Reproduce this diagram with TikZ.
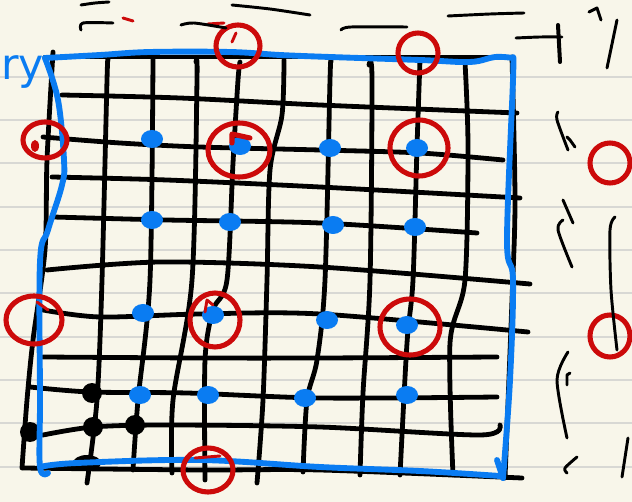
\documentclass[tikz,border=0pt]{standalone}
\usepackage{fontspec}
\newfontfamily\handfont{DejaVu Sans}
\definecolor{paper}{HTML}{F8F6EA}
\definecolor{ruleline}{HTML}{D8D8D4}
\definecolor{inkblue}{HTML}{0A7CF2}
\definecolor{inkred}{HTML}{CC0A0A}
\begin{document}
\begin{tikzpicture}[x=0.75pt,y=-0.75pt,line cap=round,line join=round,
  gridline/.style={draw=black,line width=3.6pt},
  scribble/.style={draw=black,line width=2.2pt},
  border/.style={draw=inkblue,line width=4.4pt},
  bdot/.style={fill=inkblue},
  kdot/.style={fill=black},
  ring/.style={draw=inkred,line width=3.8pt},
  redmark/.style={draw=inkred,line width=2.2pt}]
\fill[paper] (0,0) rectangle (632,502);
\useasboundingbox (0,0) rectangle (632,502);
\clip (0,0) rectangle (632,502);
% ruled paper
\foreach \yy in {77,120,163,207,250,293,337,380,423,467}
  \draw[ruleline,line width=1.4pt] (0,\yy) -- (632,\yy);
% horizontal grid lines
\draw[gridline] plot[smooth] coordinates {(45,57)(300,57)(512,57)};
\draw[gridline] plot[smooth] coordinates {(62,95)(180,98)(320,105)(517,113)};
\draw[gridline] plot[smooth] coordinates {(43,137)(120,143)(200,147)(320,150)(420,153)(503,160)};
\draw[gridline] plot[smooth] coordinates {(52,177)(167,180)(320,187)(520,198)};
\draw[gridline] plot[smooth] coordinates {(53,217)(167,220)(320,223)(477,233)};
\draw[gridline] plot[smooth] coordinates {(47,270)(160,262)(320,267)(530,284)};
\draw[gridline] plot[smooth] coordinates {(43,310)(100,317)(200,314)(320,314)(528,332)};
\draw[gridline] plot[smooth] coordinates {(43,357)(200,358)(320,358)(497,357)};
\draw[gridline] plot[smooth] coordinates {(30,387)(90,392)(187,393)(320,398)(497,397)};
\draw[gridline] plot[smooth] coordinates {(43,435)(93,427)(167,425)(320,427)(480,435)(500,425)};
\draw[gridline] plot[smooth] coordinates {(23,468)(200,470)(320,470)(522,478)};
% vertical grid lines
\draw[gridline] plot[smooth] coordinates {(53,52)(47,160)(45,250)(33,340)(27,400)(22,468)};
\draw[gridline] plot[smooth] coordinates {(108,60)(107,80)(102,280)(97,400)(87,483)};
\draw[gridline] plot[smooth] coordinates {(153,58)(150,280)(138,400)(133,470)};
\draw[gridline] plot[smooth] coordinates {(196,62)(197,80)(192,280)(173,400)(172,473)};
\draw[gridline] plot[smooth] coordinates {(240,62)(238,80)(233,163)(227,280)(213,310)(205,360)(205,480)};
\draw[gridline] plot[smooth] coordinates {(284,60)(282,115)(270,170)(267,280)(263,400)(257,483)};
\draw[gridline] plot[smooth] coordinates {(331,62)(330,80)(325,280)(317,360)(307,400)(303,472)};
\draw[gridline] plot[smooth] coordinates {(369,65)(372,80)(370,280)(363,393)(360,475)};
\draw[gridline] plot[smooth] coordinates {(420,60)(417,147)(413,280)(407,343)(400,475)};
\draw[gridline] plot[smooth] coordinates {(465,62)(468,147)(465,280)(450,343)(453,475)};
\draw[gridline] plot[smooth] coordinates {(512,57)(515,200)(512,300)(505,478)};
% black dots
\fill[kdot] (92,393) circle [radius=10];
\fill[kdot] (93,427) circle [radius=10];
\fill[kdot] (135,425) circle [radius=10];
\fill[kdot] (30,432) circle [radius=10];
\fill[kdot] (87,463) ellipse [x radius=14, y radius=8];
% blue border
\draw[border] plot[smooth,tension=0.6] coordinates {(45,58)(100,55)(150,52)(230,52)(280,55)(330,57)(420,60)(470,62)(495,57)(513,58)};
\draw[border] plot[smooth,tension=0.6] coordinates {(513,58)(513,80)(507,240)(513,280)(510,380)(503,478)};
\draw[border] (497,460) -- (503,478);
\draw[border] plot[smooth,tension=0.6] coordinates {(40,467)(77,463)(200,460)(320,467)(420,471)(500,476)};
\draw[border] plot[smooth,tension=0.6] coordinates {(45,58)(58,100)(64,160)(62,185)(48,230)(40,262)(40,400)(40,467)(48,473)};
% blue dots
\foreach \p in {(152,139),(240,146),(330,148),(417,148),
                (152,220),(230,222),(333,225),(415,227),
                (143,313),(213,315),(327,320),(407,325),
                (140,395),(208,395),(305,398),(407,395)}
  \fill[bdot] \p ellipse [x radius=11, y radius=9];
% red circles
\draw[ring] (238,46) ellipse [x radius=22, y radius=21];
\draw[redmark] (232,42) -- (236,33);
\draw[ring] (418,53) ellipse [x radius=20, y radius=20];
\draw[ring] (45,140) ellipse [x radius=22, y radius=18];
\fill[inkred] (35,146) ellipse [x radius=4, y radius=6];
\draw[ring] (239,150) ellipse [x radius=31, y radius=27];
\draw[ring] (232,143) -- (232,134) -- (250,138);
\draw[ring] (419,148) ellipse [x radius=29, y radius=28];
\draw[ring] (34,320) ellipse [x radius=28, y radius=24];
\draw[redmark] (37,302) -- (48,310);
\draw[ring] (215,320) ellipse [x radius=25, y radius=27];
\draw[redmark] (205,312) -- (207,300) -- (213,305);
\draw[ring] (410,327) ellipse [x radius=30, y radius=28];
\draw[ring] (208,470) ellipse [x radius=25, y radius=22];
\draw[redmark] (195,458) -- (220,456);
\draw[ring] (610,163) ellipse [x radius=20, y radius=20];
\draw[ring] (610,336) ellipse [x radius=20, y radius=21];
% small red marks at top
\draw[redmark] (123,18) -- (133,21);
\draw[redmark] (208,24) -- (224,23);
% top scribbles
\draw[scribble] plot[smooth] coordinates {(81,5)(95,3)(109,2)};
\draw[scribble] plot[smooth] coordinates {(81,30)(83,23)(113,23)};
\draw[scribble] plot[smooth] coordinates {(181,25)(194,23)(226,28)};
\draw[scribble] plot[smooth] coordinates {(232,5)(270,9)(310,15)};
\draw[scribble] plot[smooth] coordinates {(341,30)(351,27)(407,27)};
\draw[scribble] plot[smooth] coordinates {(448,16)(490,14)(524,13)};
\draw[scribble] plot[smooth] coordinates {(516,38)(540,37)(562,37)};
\draw[scribble,line width=3pt] (558,25) -- (560,62);
\draw[scribble] (589,12) -- (597,8) -- (601,20);
\draw[scribble] (617,20) -- (607,68);
% right scribbles
\draw[scribble] plot[smooth] coordinates {(558,112)(557,120)(568,150)};
\draw[scribble] (567,137) -- (570,140) -- (575,147);
\draw[scribble] (563,200) -- (573,223);
\draw[scribble] plot[smooth] coordinates {(563,220)(558,230)(572,267)};
\draw[scribble] plot[smooth] coordinates {(615,217)(610,230)(611,290)(617,350)};
\draw[scribble] plot[smooth] coordinates {(568,352)(557,380)(567,438)};
\draw[scribble] (567,385) -- (567,375) -- (570,373);
\draw[scribble] plot[smooth] coordinates {(577,457)(565,468)(567,473)};
\draw[scribble] (628,438) -- (622,477);
% label
\node[text=inkblue,font=\handfont\fontsize{32}{32}\selectfont,anchor=base west,inner sep=0pt] (lbl) at (1,80) {ry};
\end{tikzpicture}
\end{document}
